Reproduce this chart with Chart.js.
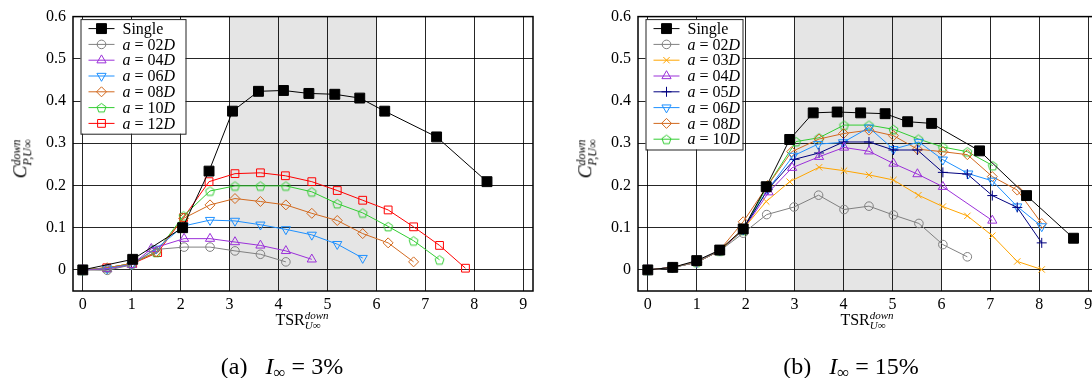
<!DOCTYPE html>
<html>
  <head>
    <title>Power coefficient</title>
    <meta charset="utf-8" />
    <script src="https://cdn.jsdelivr.net/npm/chart.js@4"></script>
    <style>
      body { margin: 0; width: 1092px; height: 378px; overflow: hidden; background: #fff; position: relative; font-family: 'Liberation Serif', serif; }
      .box { position: absolute; top: 0; width: 560px; height: 320px; }
      .ylab { position: absolute; transform: translate(-50%, -50%) rotate(-90deg); font-size: 19px; white-space: nowrap; }
      .xlab { position: absolute; transform: translateX(-50%); font-size: 16px; white-space: nowrap; }
      .ss { display: inline-block; vertical-align: middle; line-height: 0.9; font-size: 11px; font-style: italic; }
      .ylab .ss { font-size: 12px; }
      .ss span { display: block; }
      .cap { position: absolute; transform: translateX(-50%); font-size: 24px; white-space: nowrap; top: 353px; }
      .cap sub { font-size: 17px; vertical-align: -4px; }
    </style>
  </head>
  <body>
    <div class="box" style="left:0"><canvas id="chartA" width="560" height="320"></canvas></div>
    <div class="box" style="left:565px"><canvas id="chartB" width="560" height="320"></canvas></div>

    <div class="ylab" style="left:21px; top:159px"><i>C</i><span class="ss"><span>down</span><span>P,U∞</span></span></div>
    <div class="ylab" style="left:586px; top:159px"><i>C</i><span class="ss"><span>down</span><span>P,U∞</span></span></div>
    <div class="xlab" style="left:302px; top:311px">TSR<span class="ss"><span>down</span><span>U∞</span></span></div>
    <div class="xlab" style="left:867px; top:311px">TSR<span class="ss"><span>down</span><span>U∞</span></span></div>
    <div class="cap" style="left:282px">(a)&ensp;&nbsp;<i>I</i><sub>∞</sub> = 3%</div>
    <div class="cap" style="left:851px">(b)&ensp;&nbsp;<i>I</i><sub>∞</sub> = 15%</div>

    <script>
      // ---- (a) I = 3% ----
      const A_labels = ['Single', 'a = 02D', 'a = 04D', 'a = 06D', 'a = 08D', 'a = 10D', 'a = 12D'];
      const A_single_x = [0, 1.02, 2.04, 2.58, 3.06, 3.59, 4.10, 4.62, 5.15, 5.66, 6.17, 7.23, 8.26];
      const A_single_y = [0, 0.025, 0.100, 0.234, 0.376, 0.423, 0.425, 0.418, 0.416, 0.407, 0.376, 0.315, 0.209];
      const A_02_x = [0, 0.5, 1.0, 1.45, 2.07, 2.60, 3.11, 3.63, 4.15];
      const A_02_y = [0, -0.001, 0.012, 0.048, 0.054, 0.054, 0.045, 0.037, 0.019];
      const A_04_x = [0, 0.5, 1.0, 1.40, 2.07, 2.60, 3.11, 3.63, 4.15, 4.68];
      const A_04_y = [0, 0.002, 0.012, 0.050, 0.074, 0.074, 0.066, 0.058, 0.045, 0.025];
      const A_06_x = [0, 0.5, 1.0, 1.5, 2.06, 2.60, 3.11, 3.63, 4.15, 4.68, 5.20, 5.72];
      const A_06_y = [0, 0.003, 0.013, 0.050, 0.104, 0.118, 0.116, 0.107, 0.096, 0.083, 0.061, 0.028];
      const A_08_x = [0, 0.5, 1.0, 1.5, 2.06, 2.60, 3.11, 3.63, 4.15, 4.68, 5.20, 5.72, 6.24, 6.76];
      const A_08_y = [0, 0.005, 0.015, 0.043, 0.122, 0.154, 0.169, 0.162, 0.154, 0.134, 0.117, 0.086, 0.064, 0.019];
      const A_10_x = [0, 0.5, 1.0, 1.5, 2.06, 2.60, 3.11, 3.63, 4.15, 4.68, 5.20, 5.72, 6.24, 6.76, 7.29];
      const A_10_y = [0, 0.005, 0.015, 0.042, 0.128, 0.187, 0.199, 0.199, 0.199, 0.185, 0.157, 0.135, 0.103, 0.069, 0.024];
      const A_12_x = [0, 0.49, 1.02, 1.53, 2.06, 2.58, 3.11, 3.63, 4.14, 4.68, 5.20, 5.72, 6.24, 6.76, 7.29, 7.82];
      const A_12_y = [0, 0.005, 0.015, 0.041, 0.124, 0.209, 0.228, 0.230, 0.223, 0.209, 0.188, 0.165, 0.142, 0.102, 0.058, 0.004];

      // ---- (b) I = 15% ----
      const B_labels = ['Single', 'a = 02D', 'a = 03D', 'a = 04D', 'a = 05D', 'a = 06D', 'a = 08D', 'a = 10D'];
      const B_single_x = [0, 0.51, 1.0, 1.47, 1.95, 2.42, 2.90, 3.38, 3.87, 4.35, 4.85, 5.31, 5.80, 6.78, 7.74, 8.70];
      const B_single_y = [0, 0.006, 0.022, 0.047, 0.097, 0.197, 0.309, 0.372, 0.374, 0.372, 0.370, 0.351, 0.347, 0.282, 0.176, 0.075];
      const B_02_x = [0, 0.5, 1.0, 1.47, 1.95, 2.43, 2.99, 3.49, 4.01, 4.52, 5.02, 5.54, 6.03, 6.53];
      const B_02_y = [0, 0.005, 0.018, 0.045, 0.087, 0.131, 0.149, 0.177, 0.143, 0.151, 0.130, 0.110, 0.060, 0.031];
      const B_03_x = [0, 0.5, 1.0, 1.47, 1.95, 2.42, 2.90, 3.50, 4.01, 4.52, 5.02, 5.53, 6.03, 6.53, 7.04, 7.55, 8.05];
      const B_03_y = [0, 0.006, 0.018, 0.045, 0.097, 0.162, 0.209, 0.243, 0.235, 0.225, 0.213, 0.177, 0.150, 0.128, 0.081, 0.020, 0.001];
      const B_04_x = [0, 0.5, 1.0, 1.47, 1.95, 2.47, 2.95, 3.50, 4.01, 4.52, 5.02, 5.51, 6.03, 7.04];
      const B_04_y = [0, 0.006, 0.018, 0.045, 0.095, 0.184, 0.242, 0.268, 0.290, 0.281, 0.252, 0.227, 0.197, 0.117];
      const B_05_x = [0, 0.5, 1.0, 1.47, 1.95, 2.45, 3.0, 3.50, 4.0, 4.52, 5.02, 5.51, 6.03, 6.53, 7.04, 7.55, 8.05];
      const B_05_y = [0, 0.006, 0.018, 0.046, 0.096, 0.190, 0.262, 0.277, 0.303, 0.303, 0.284, 0.284, 0.231, 0.227, 0.176, 0.148, 0.064];
      const B_06_x = [0, 0.5, 1.0, 1.47, 1.95, 2.45, 2.97, 3.48, 3.99, 4.52, 5.02, 5.54, 6.03, 6.55, 7.04, 7.55, 8.05];
      const B_06_y = [0, 0.006, 0.018, 0.046, 0.095, 0.190, 0.270, 0.298, 0.302, 0.337, 0.286, 0.303, 0.261, 0.228, 0.211, 0.150, 0.103];
      const B_08_x = [0, 0.5, 1.0, 1.47, 1.95, 2.45, 2.94, 3.50, 4.0, 4.52, 5.02, 5.51, 6.03, 6.53, 7.04, 7.55, 8.05];
      const B_08_y = [0, 0.006, 0.018, 0.047, 0.114, 0.200, 0.280, 0.310, 0.323, 0.331, 0.318, 0.286, 0.280, 0.273, 0.221, 0.189, 0.110];
      const B_10_x = [0, 0.5, 1.0, 1.47, 1.95, 2.45, 3.03, 3.50, 4.01, 4.52, 5.02, 5.53, 6.03, 6.53, 7.05];
      const B_10_y = [0, 0.006, 0.018, 0.045, 0.094, 0.200, 0.304, 0.313, 0.343, 0.343, 0.333, 0.310, 0.291, 0.280, 0.247];

      const xTicks = [0, 1, 2, 3, 4, 5, 6, 7, 8, 9];
      const yTicks = [0, 0.1, 0.2, 0.3, 0.4, 0.5, 0.6];
      const shadeFrom = 3, shadeTo = 6;

      const SERIF = "'Liberation Serif', 'DejaVu Serif', serif";

      // pentagon marker (no built-in style)
      function pentagon(color, r) {
        const c = document.createElement('canvas');
        const s = Math.ceil(2 * r + 3);
        c.width = s; c.height = s;
        const g = c.getContext('2d');
        g.strokeStyle = color; g.lineWidth = 1;
        g.beginPath();
        for (let i = 0; i < 5; i++) {
          const t = -Math.PI / 2 + i * 2 * Math.PI / 5;
          const px = s / 2 + r * Math.cos(t), py = s / 2 + 0.6 + r * Math.sin(t);
          if (i === 0) g.moveTo(px, py); else g.lineTo(px, py);
        }
        g.closePath(); g.stroke();
        return c;
      }

      const STY = {
        'Single':  { color: '#000000', style: 'rect', r: 7, fill: '#000000' },
        'a = 02D': { color: '#808080', style: 'circle', r: 4.3 },
        'a = 03D': { color: '#ffa500', style: 'crossRot', r: 4.5 },
        'a = 04D': { color: '#9b30d9', style: 'triangle', r: 5.3 },
        'a = 05D': { color: '#000080', style: 'cross', r: 5 },
        'a = 06D': { color: '#1e90ff', style: 'triangle', r: 5.3, rot: 180 },
        'a = 08D': { color: '#d2691e', style: 'rectRot', r: 5 },
        'a = 10D': { color: '#32cd32', style: pentagon('#32cd32', 4.7), r: 5 },
        'a = 12D': { color: '#ff0000', style: 'rect', r: 5.5 }
      };

      function pts(xs, ys) { return xs.map((x, i) => ({ x: x, y: ys[i] })); }

      function makeSet(label, xs, ys) {
        const s = STY[label];
        return {
          label: label,
          data: pts(xs, ys),
          showLine: true,
          borderColor: s.color,
          borderWidth: 1,
          pointStyle: s.style,
          pointRadius: s.r,
          pointHoverRadius: s.r,
          pointRotation: s.rot || 0,
          pointBorderColor: s.color,
          pointBorderWidth: 1,
          pointBackgroundColor: s.fill || 'rgba(0,0,0,0)'
        };
      }

      // grey band, frame and inner legend
      const decor = {
        id: 'decor',
        beforeDraw(chart) {
          const { ctx, chartArea: a, scales: { x } } = chart;
          ctx.save();
          ctx.fillStyle = '#e5e5e5';
          const x0 = x.getPixelForValue(shadeFrom), x1 = x.getPixelForValue(shadeTo);
          ctx.fillRect(x0, a.top, x1 - x0, a.bottom - a.top);
          ctx.restore();
        },
        afterDraw(chart, args, opts) {
          const { ctx, chartArea: a } = chart;
          ctx.save();
          ctx.strokeStyle = '#000'; ctx.lineWidth = 1.5;
          ctx.strokeRect(a.left, a.top, a.right - a.left, a.bottom - a.top);

          const sets = chart.data.datasets;
          const bx = a.left + opts.dx, by = a.top + 2.5;
          const rowH = 15.8, w = opts.w, h = sets.length * rowH + 4;
          ctx.fillStyle = '#fff';
          ctx.fillRect(bx, by, w, h);
          ctx.strokeStyle = '#222'; ctx.lineWidth = 1;
          ctx.strokeRect(bx + 0.5, by + 0.5, w, h);

          sets.forEach((d, i) => {
            const cy = by + 9.5 + i * rowH;
            const lx0 = bx + 8, lx1 = bx + 34, mx = (lx0 + lx1) / 2;
            ctx.strokeStyle = d.borderColor; ctx.lineWidth = 1;
            ctx.beginPath(); ctx.moveTo(lx0, cy); ctx.lineTo(lx1, cy); ctx.stroke();
            ctx.fillStyle = d.pointBackgroundColor;
            ctx.strokeStyle = d.pointBorderColor;
            Chart.helpers.drawPoint(ctx, {
              pointStyle: d.pointStyle, rotation: d.pointRotation,
              radius: d.pointRadius, borderWidth: 1
            }, mx, cy);
            // label text
            ctx.fillStyle = '#000';
            ctx.textBaseline = 'middle';
            let tx = bx + 42;
            const parts = d.label === 'Single'
              ? [['Single', false]]
              : [['a', true], [' = ', false], [d.label.slice(4, 6), false], ['D', true]];
            parts.forEach(p => {
              ctx.font = (p[1] ? 'italic ' : '') + '16px ' + SERIF;
              ctx.fillText(p[0], tx, cy + 1);
              tx += ctx.measureText(p[0]).width;
            });
          });
          ctx.restore();
        }
      };

      function makeChart(id, sets, legendW) {
        return new Chart(document.getElementById(id), {
          type: 'scatter',
          data: { datasets: sets },
          plugins: [decor],
          options: {
            responsive: false,
            animation: false,
            events: [],
            layout: { padding: { left: 0, right: 27, top: 15, bottom: 0 } },
            plugins: {
              legend: { display: false },
              tooltip: { enabled: false },
              decor: { dx: 7.5, w: legendW }
            },
            scales: {
              x: {
                type: 'linear', min: -0.2, max: 9.2,
                afterFit(s) { s.height = 29; },
                afterBuildTicks(s) { s.ticks = xTicks.map(v => ({ value: v })); },
                grid: { color: 'rgba(0,0,0,0.85)', lineWidth: 1, drawTicks: false },
                border: { display: false },
                ticks: { padding: 4, color: '#000', font: { family: SERIF, size: 16 }, callback: v => String(v) }
              },
              y: {
                type: 'linear', min: -0.05, max: 0.6,
                afterFit(s) { s.width = 73; },
                afterBuildTicks(s) { s.ticks = yTicks.map(v => ({ value: v })); },
                grid: { color: 'rgba(0,0,0,0.85)', lineWidth: 1, drawTicks: false },
                border: { display: false },
                ticks: { padding: 7, color: '#000', font: { family: SERIF, size: 16 },
                  callback: v => Math.abs(v) < 1e-9 ? '0' : v.toFixed(1) }
              }
            }
          }
        });
      }

      makeChart('chartA', [
        makeSet(A_labels[0], A_single_x, A_single_y),
        makeSet(A_labels[1], A_02_x, A_02_y),
        makeSet(A_labels[2], A_04_x, A_04_y),
        makeSet(A_labels[3], A_06_x, A_06_y),
        makeSet(A_labels[4], A_08_x, A_08_y),
        makeSet(A_labels[5], A_10_x, A_10_y),
        makeSet(A_labels[6], A_12_x, A_12_y)
      ], 105);

      makeChart('chartB', [
        makeSet(B_labels[0], B_single_x, B_single_y),
        makeSet(B_labels[1], B_02_x, B_02_y),
        makeSet(B_labels[2], B_03_x, B_03_y),
        makeSet(B_labels[3], B_04_x, B_04_y),
        makeSet(B_labels[4], B_05_x, B_05_y),
        makeSet(B_labels[5], B_06_x, B_06_y),
        makeSet(B_labels[6], B_08_x, B_08_y),
        makeSet(B_labels[7], B_10_x, B_10_y)
      ], 97);
    </script>
  </body>
</html>
